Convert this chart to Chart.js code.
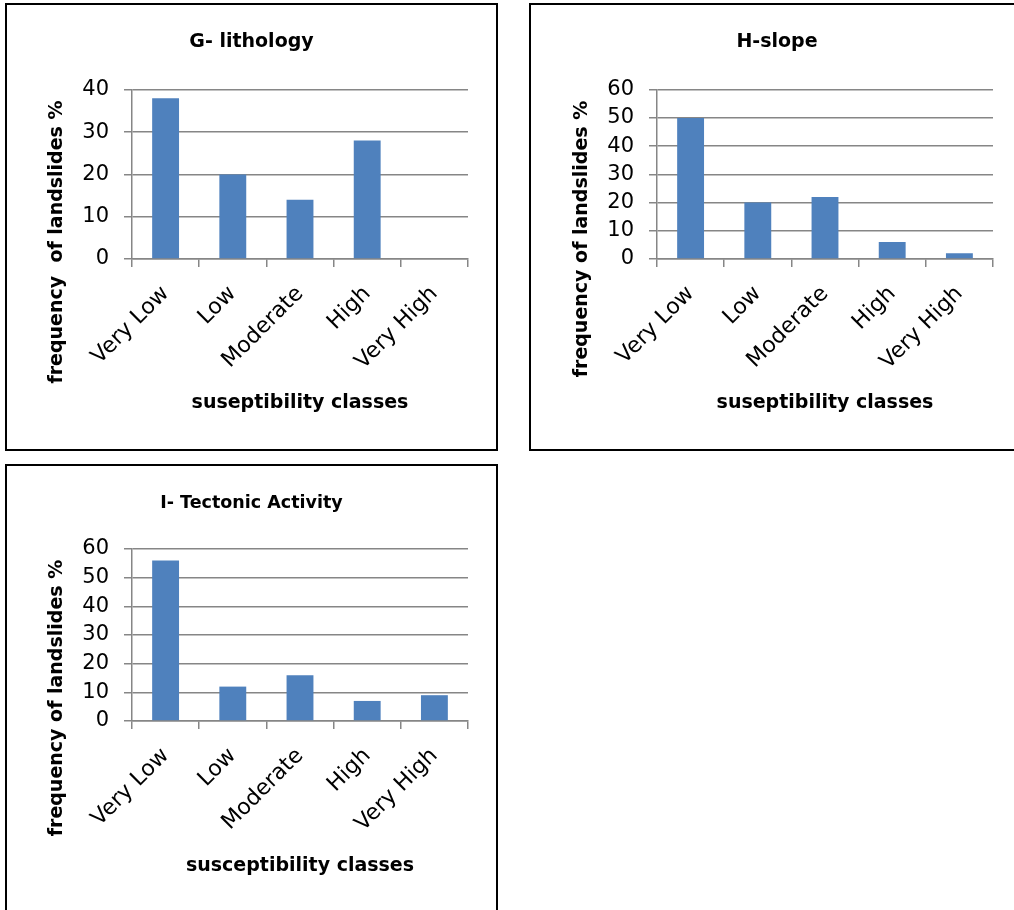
<!DOCTYPE html>
<html>
<head>
<meta charset="utf-8">
<script src="https://cdn.jsdelivr.net/npm/chart.js@4.4.0/dist/chart.umd.min.js"></script>
<style>
  body { margin: 0; background: #fff; width: 1014px; height: 910px; overflow: hidden; position: relative; }
  .box { position: absolute; border: 2px solid #000; width: 489px; height: 444px; }
  .box canvas { display: block; }
</style>
</head>
<body>
<div class="box" style="left:5px; top:3px;"><canvas id="chartG" width="489" height="444"></canvas></div>
<div class="box" style="left:529px; top:3px;"><canvas id="chartH" width="489" height="444"></canvas></div>
<div class="box" style="left:5px; top:464px;"><canvas id="chartI" width="489" height="444"></canvas></div>
<script>
const classes = ['Very Low', 'Low', 'Moderate', 'High', 'Very High'];
const lithologyFreq = [38, 20, 14, 28, 0];
const slopeFreq = [50, 20, 22, 6, 2];
const tectonicFreq = [56, 12, 16, 7, 9];

const lithologyMax = 40;
const slopeMax = 60;
const tectonicMax = 60;

const gray = '#868686';
const barBlue = '#4f81bd';
const face = '"DejaVu Sans", sans-serif';

// rotated y caption, drawn by hand so it can sit lower than the plot centre
const yCaption = {
    id: 'yCaption',
    afterDraw(chart, args, opts) {
        const ctx = chart.ctx;
        ctx.save();
        ctx.translate(opts.x, opts.y);
        ctx.rotate(-Math.PI / 2);
        ctx.font = 'bold 19px ' + face;
        ctx.fillStyle = '#000';
        ctx.textAlign = 'center';
        ctx.textBaseline = 'middle';
        ctx.fillText(opts.text, 0, 0);
        ctx.restore();
    }
};

const makeChart = (id, values, cfg) => {
    new Chart(document.getElementById(id), {
        type: 'bar',
        data: {
            labels: classes,
            datasets: [{
                data: values,
                backgroundColor: barBlue,
                borderWidth: 0,
                barPercentage: 0.4,
                categoryPercentage: 1
            }]
        },
        plugins: [yCaption],
        options: {
            responsive: false,
            animation: false,
            devicePixelRatio: 1,
            layout: { padding: { left: cfg.left, right: cfg.right, top: 0, bottom: 0 } },
            plugins: {
                legend: { display: false },
                tooltip: { enabled: false },
                title: {
                    display: true,
                    text: cfg.title,
                    color: '#000',
                    font: { family: face, size: cfg.titleSize, weight: 'bold', lineHeight: 1.2 },
                    padding: { top: cfg.titleTop, bottom: cfg.titleBottom }
                },
                yCaption: { text: cfg.yText, x: cfg.yx, y: cfg.yy }
            },
            scales: {
                x: {
                    afterFit: (scale) => { scale.height = cfg.xHeight; },
                    grid: { drawOnChartArea: false, drawTicks: true, tickLength: 8, color: gray, lineWidth: 1.5 },
                    border: { color: gray, width: 1.5 },
                    ticks: {
                        color: '#000',
                        font: { family: face, size: 22 },
                        minRotation: 45,
                        maxRotation: 45,
                        padding: 14
                    },
                    title: {
                        display: true,
                        text: cfg.xText,
                        color: '#000',
                        font: { family: face, size: 19, weight: 'bold', lineHeight: 1.2 },
                        padding: { top: 0, bottom: cfg.xTitlePad }
                    }
                },
                y: {
                    min: 0,
                    max: cfg.max,
                    afterFit: (scale) => { scale.width = cfg.yWidth; },
                    grid: { color: gray, lineWidth: 1.5, tickLength: 8 },
                    border: { color: gray, width: 1.5 },
                    ticks: {
                        stepSize: 10,
                        color: '#000',
                        font: { family: face, size: 21 },
                        padding: 15
                    }
                }
            }
        }
    });
};

makeChart('chartG', lithologyFreq, {
    title: 'G- lithology', titleSize: 19, titleTop: 26, titleBottom: 36,
    max: lithologyMax, left: 28, right: 28, yWidth: 97, xHeight: 190, xTitlePad: 35,
    xText: 'suseptibility classes', yText: 'frequency  of landslides %', yx: 50, yy: 237
});

makeChart('chartH', slopeFreq, {
    title: 'H-slope', titleSize: 19, titleTop: 26, titleBottom: 36,
    max: slopeMax, left: 30, right: 27, yWidth: 96, xHeight: 190, xTitlePad: 35,
    xText: 'suseptibility classes', yText: 'frequency of landslides %', yx: 51, yy: 234
});

makeChart('chartI', tectonicFreq, {
    title: 'I- Tectonic Activity', titleSize: 17.5, titleTop: 27, titleBottom: 35,
    max: tectonicMax, left: 28, right: 28, yWidth: 97, xHeight: 189, xTitlePad: 33,
    xText: 'susceptibility classes', yText: 'frequency of landslides %', yx: 50, yy: 232
});
</script>
</body>
</html>
